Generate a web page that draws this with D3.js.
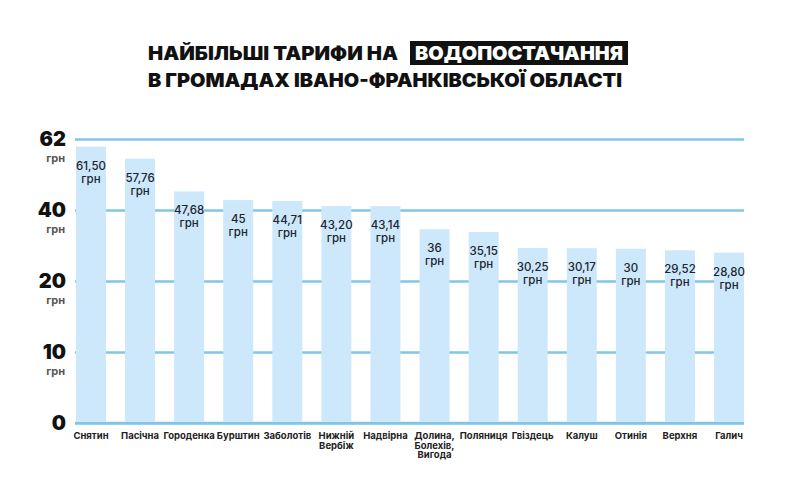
<!DOCTYPE html>
<html>
<head>
<meta charset="utf-8">
<script src="https://cdn.jsdelivr.net/npm/d3@7"></script>
<style>
  body { margin: 0; background: #fff; }
  text { font-family: Inter, "Noto Sans", sans-serif; }
</style>
</head>
<body>
<div id="chart"></div>
<script>
// data
var cities = ["Снятин", "Пасічна", "Городенка", "Бурштин", "Заболотів", "Нижній\nВербіж",
  "Надвірна", "Долина,\nБолехів,\nВигода", "Поляниця", "Гвіздець", "Калуш", "Отинія", "Верхня", "Галич"];
var tariffs = [61.50, 57.76, 47.68, 45, 44.71, 43.20, 43.14, 36, 35.15, 30.25, 30.17, 30, 29.52, 28.80];
var yTicks = [0, 10, 20, 40, 62];
var unit = "грн";
var titleLine1 = "НАЙБІЛЬШІ ТАРИФИ НА";
var titleBox = "ВОДОПОСТАЧАННЯ";
var titleLine2 = "В ГРОМАДАХ ІВАНО-ФРАНКІВСЬКОЇ ОБЛАСТІ";

var width = 794, height = 496;
var plotLeft = 75, plotRight = 744, plotBase = 423, plotTop = 139;

var svg = d3.select("#chart").append("svg")
  .attr("width", width)
  .attr("height", height);

//Title
svg.append("text")
  .attr("x", 148).attr("y", 60)
  .attr("font-size", 19).attr("font-weight", 900)
  .attr("fill", "#111")
  .attr("textLength", 250).attr("lengthAdjust", "spacingAndGlyphs")
  .text(titleLine1);
svg.append("rect")
  .attr("x", 410).attr("y", 41)
  .attr("width", 218).attr("height", 24)
  .attr("fill", "#111");
svg.append("text")
  .attr("x", 415).attr("y", 60)
  .attr("font-size", 19).attr("font-weight", 900)
  .attr("fill", "#fff")
  .attr("textLength", 208).attr("lengthAdjust", "spacingAndGlyphs")
  .text(titleBox);
svg.append("text")
  .attr("x", 148).attr("y", 87)
  .attr("font-size", 19).attr("font-weight", 900)
  .attr("fill", "#111")
  .attr("textLength", 474).attr("lengthAdjust", "spacingAndGlyphs")
  .text(titleLine2);

//axis scale: ticks are evenly spaced, so piecewise
var y = d3.scaleLinear()
  .domain(yTicks)
  .range(d3.range(yTicks.length).map(function(i){ return plotBase - i * (plotBase - plotTop) / (yTicks.length - 1); }));

//bars in the picture follow their own linear scale
var barY = d3.scaleLinear().domain([0, 62]).range([346, 145]);

var x = d3.scaleBand()
  .domain(cities)
  .range([plotLeft + 1, plotRight])
  .paddingInner(0.39)
  .paddingOuter(0);

//gridlines
var grid = svg.append("g")
  .attr("transform", "translate(" + plotLeft + ",0)")
  .call(d3.axisLeft(y).tickValues(yTicks).tickSize(-(plotRight - plotLeft)).tickFormat(""));
grid.select(".domain").remove();
grid.selectAll("line")
  .attr("stroke", "#80c6e6")
  .attr("stroke-width", 2.5);

//bars
svg.append("g").selectAll("rect")
  .data(tariffs)
  .enter().append("rect")
  .attr("x", function(d, i){ return x(cities[i]); })
  .attr("y", function(d){ return barY(d); })
  .attr("width", x.bandwidth())
  .attr("height", function(d){ return plotBase - 1.5 - barY(d); })
  .attr("fill", "#cce8fa");

//zero line on top of bars
svg.append("line")
  .attr("x1", plotLeft).attr("x2", plotRight)
  .attr("y1", y(0)).attr("y2", y(0))
  .attr("stroke", "#80c6e6")
  .attr("stroke-width", 2.5);

//value labels
var vl = svg.append("g").selectAll("text")
  .data(tariffs)
  .enter().append("text")
  .attr("text-anchor", "middle")
  .attr("font-size", 11.5)
  .attr("font-weight", 500)
  .attr("fill", "#1c2430");
vl.append("tspan")
  .attr("x", function(d, i){ return x(cities[i]) + x.bandwidth() / 2; })
  .attr("y", function(d){ return barY(d) + 23; })
  .text(function(d){ return d3.format(d % 1 === 0 ? "d" : ".2f")(d).replace(".", ","); });
vl.append("tspan")
  .attr("x", function(d, i){ return x(cities[i]) + x.bandwidth() / 2; })
  .attr("y", function(d){ return barY(d) + 36; })
  .text(unit);

//y labels
var yl = svg.append("g").selectAll("g")
  .data(yTicks)
  .enter().append("g");
yl.append("text")
  .attr("x", 66)
  .attr("y", function(d){ return y(d) + 7; })
  .attr("text-anchor", "end")
  .attr("font-size", 20)
  .attr("font-weight", 900)
  .attr("fill", "#111")
  .text(function(d){ return d; });
yl.filter(function(d){ return d > 0; }).append("text")
  .attr("x", 65)
  .attr("y", function(d){ return y(d) + 23; })
  .attr("text-anchor", "end")
  .attr("font-size", 11)
  .attr("font-weight", 700)
  .attr("fill", "#555")
  .text(unit);

//x labels
var xl = svg.append("g").selectAll("text")
  .data(cities)
  .enter().append("text")
  .attr("text-anchor", "middle")
  .attr("font-size", 9.5)
  .attr("font-weight", 700)
  .attr("fill", "#222");
xl.selectAll("tspan")
  .data(function(d){ return d.split("\n").map(function(s){ return {city: d, line: s}; }); })
  .enter().append("tspan")
  .attr("x", function(d){ return x(d.city) + x.bandwidth() / 2; })
  .attr("y", function(d, i){ return 439 + i * 9.5; })
  .text(function(d){ return d.line; });
</script>
</body>
</html>
